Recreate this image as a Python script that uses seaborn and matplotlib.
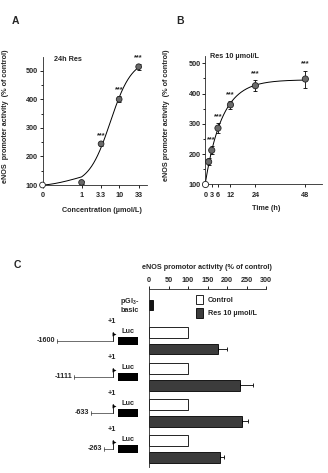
import numpy as np
import pandas as pd
import matplotlib
matplotlib.use("Agg")
import matplotlib.pyplot as plt
import seaborn as sns
from matplotlib.patches import Rectangle, Patch
from matplotlib.ticker import MultipleLocator, FixedLocator, NullLocator

# ---------------- data ----------------
# Panel A : concentration response (24 h resveratrol)
conc = [0, 1, 3.3, 10, 33]
conc_labels = ["0", "1", "3.3", "10", "33"]
conc_activity = [100, 109, 244, 400, 514]
conc_err = [0, 5, 6, 10, 10]
conc_sig = ["", "", "***", "***", "***"]

# Panel B : time course (Res 10 umol/L)
time_h = [0, 1.5, 3, 6, 12, 24, 48]
time_ticks = [0, 3, 6, 12, 24, 48]
time_activity = [100, 175, 213, 286, 363, 426, 448]
time_err = [0, 11, 13, 16, 13, 19, 28]
time_sig = ["", "", "***", "***", "***", "***", "***"]

# Panel C : deletion constructs
constructs = ["pGl3-basic", "-1600", "-1111", "-633", "-263"]
promoter_len = [0, 1600, 1111, 633, 263]
control_activity = [np.nan, 100, 100, 100, 100]
res_activity = [11, 176, 233, 238, 182]
res_err = [0, 25, 33, 15, 11]
c_ticks = [0, 50, 100, 150, 200, 250, 300]
cond_labels = ["Control", "Res 10 µmol/L"]

# ---------------- style ----------------
sns.set_theme(style="ticks")
plt.rcParams["font.family"] = ["Liberation Sans", "DejaVu Sans"]
plt.rcParams["font.weight"] = "bold"
plt.rcParams["mathtext.fontset"] = "custom"
plt.rcParams["mathtext.rm"] = "Liberation Sans:bold"
plt.rcParams["mathtext.bf"] = "Liberation Sans:bold"
plt.rcParams["mathtext.default"] = "bf"
FS = 5.2
LW = 0.6

W, H = 328, 473
fig = plt.figure(figsize=(W / 100, H / 100), dpi=100)
fig.patch.set_facecolor("white")


def ax_px(left, right, top, bottom):
    return fig.add_axes([left / W, 1 - bottom / H, (right - left) / W, (bottom - top) / H])


def style_axis(ax):
    for s in ax.spines.values():
        s.set_linewidth(LW)
    ax.tick_params(which="major", length=2.2, width=LW, labelsize=FS, pad=1.2, color="black")
    ax.tick_params(which="minor", length=1.3, width=LW, color="black")
    ax.set_facecolor("white")


def hill_fit(x, y):
    # bottom fixed at the control value, top / EC50 / slope fitted
    x = np.asarray(x, float)
    y = np.asarray(y, float)
    b = y[0]
    best = None
    for ec in np.geomspace(0.5, 50, 200):
        for n in np.linspace(0.5, 5, 120):
            f = x ** n / (x ** n + ec ** n)
            span = np.sum(f * (y - b)) / np.sum(f * f)
            sse = np.sum((b + span * f - y) ** 2)
            if best is None or sse < best[0]:
                best = (sse, ec, n, span)
    _, ec, n, span = best
    return lambda xx: b + span * xx ** n / (xx ** n + ec ** n)


def expo_fit(t, y):
    t = np.asarray(t, float)
    y = np.asarray(y, float)
    best = None
    for k in np.geomspace(0.005, 3, 600):
        f = 1 - np.exp(-k * t)
        A = np.column_stack([np.ones_like(f), f])
        coef, *_ = np.linalg.lstsq(A, y, rcond=None)
        sse = np.sum((A @ coef - y) ** 2)
        if best is None or sse < best[0]:
            best = (sse, k, coef)
    _, k, (y0, span) = best
    return lambda tt: y0 + span * (1 - np.exp(-k * tt))


def stars(ax, xs, ys, errs, labels):
    for x, y, e, lab in zip(xs, ys, errs, labels):
        if lab:
            ax.annotate(lab, (x, y + e), xytext=(0, 4.6), textcoords="offset points",
                        ha="center", va="center", fontsize=FS, fontweight="bold",
                        annotation_clip=False)


point_grey = "#6a6a6a"

# ---------------- Panel A ----------------
axA = ax_px(42.5, 147, 57, 185)
axA.set_xscale("symlog", linthresh=1, linscale=0.936)
fA = hill_fit(conc, conc_activity)
xcurve = np.concatenate([np.linspace(0, 1, 60), np.geomspace(1, max(conc), 200)])
sns.lineplot(x=xcurve, y=fA(xcurve), color="black", lw=0.7, ax=axA, clip_on=False, zorder=2)
axA.errorbar(conc, conc_activity, yerr=conc_err, fmt="none", ecolor="black",
             elinewidth=LW, capsize=1.2, capthick=LW, zorder=2)
dfA = pd.DataFrame({"x": conc, "y": conc_activity,
                    "kind": ["ctrl" if c == 0 else "res" for c in conc]})
sns.scatterplot(data=dfA, x="x", y="y", hue="kind", palette={"ctrl": "white", "res": point_grey},
                s=17, edgecolor="#222222", linewidth=0.6, legend=False, ax=axA,
                zorder=3, clip_on=False)
stars(axA, conc, conc_activity, conc_err, conc_sig)
axA.set_xlim(0, 55)
axA.set_ylim(100, 548)
axA.xaxis.set_major_locator(FixedLocator(conc))
axA.set_xticklabels(conc_labels)
axA.xaxis.set_minor_locator(NullLocator())
axA.yaxis.set_major_locator(FixedLocator([100, 200, 300, 400, 500]))
axA.yaxis.set_minor_locator(MultipleLocator(50))
style_axis(axA)
axA.tick_params(axis="x", pad=3.0)
sns.despine(ax=axA)
axA.set_xlabel("Concentration (µmol/L)", fontsize=FS, fontweight="bold")
axA.xaxis.set_label_coords(0.567, -0.168)
axA.set_ylabel("eNOS  promoter activity  (% of control)", fontsize=FS, fontweight="bold")
axA.yaxis.set_label_coords(-0.318, 0.54)
fig.text(54 / W, 1 - 59.5 / H, "24h Res", fontsize=FS, fontweight="bold", va="center")
fig.text(15 / W, 1 - 20.7 / H, "A", fontsize=7.5, fontweight="bold", ha="center", va="center")

# ---------------- Panel B ----------------
axB = ax_px(205.5, 322, 56, 184.5)
fB = expo_fit(time_h, time_activity)
tcurve = np.linspace(0, max(time_h), 300)
sns.lineplot(x=tcurve, y=fB(tcurve), color="black", lw=0.7, ax=axB, clip_on=False, zorder=2)
axB.errorbar(time_h, time_activity, yerr=time_err, fmt="none", ecolor="black",
             elinewidth=LW, capsize=1.2, capthick=LW, zorder=2)
dfB = pd.DataFrame({"x": time_h, "y": time_activity,
                    "kind": ["ctrl" if t == 0 else "res" for t in time_h]})
sns.scatterplot(data=dfB, x="x", y="y", hue="kind", palette={"ctrl": "white", "res": point_grey},
                s=20, edgecolor="#222222", linewidth=0.6, legend=False, ax=axB,
                zorder=3, clip_on=False)
stars(axB, time_h, time_activity, time_err, time_sig)
axB.set_xlim(0, 56)
axB.set_ylim(100, 524)
axB.xaxis.set_major_locator(FixedLocator(time_ticks))
axB.xaxis.set_minor_locator(NullLocator())
axB.yaxis.set_major_locator(FixedLocator([100, 200, 300, 400, 500]))
axB.yaxis.set_minor_locator(MultipleLocator(50))
style_axis(axB)
axB.tick_params(axis="x", pad=3.0)
sns.despine(ax=axB)
axB.set_xlabel("Time (h)", fontsize=FS, fontweight="bold")
axB.xaxis.set_label_coords(0.525, -0.163)
axB.set_ylabel("eNOS promoter activity  (% of control)", fontsize=FS, fontweight="bold")
axB.yaxis.set_label_coords(-0.305, 0.54)
fig.text(210 / W, 1 - 56 / H, "Res 10 µmol/L", fontsize=FS, fontweight="bold", va="center")
fig.text(180 / W, 1 - 20.7 / H, "B", fontsize=7.5, fontweight="bold", ha="center", va="center")

# ---------------- Panel C ----------------
top_c, bot_c = 289, 467
axC = ax_px(149, 266, top_c, bot_c)
rows = []
for name, c, r in zip(constructs, control_activity, res_activity):
    if not np.isnan(c):
        rows.append({"construct": name, "condition": cond_labels[0], "activity": c})
        rows.append({"construct": name, "condition": cond_labels[1], "activity": r})
dfC = pd.DataFrame(rows)
res_grey = "#3c3c3c"
sns.barplot(data=dfC, y="construct", x="activity", hue="condition", order=constructs,
            hue_order=cond_labels, palette={cond_labels[0]: "white", cond_labels[1]: res_grey},
            orient="h", width=0.944, gap=0.41, edgecolor="black", linewidth=LW,
            errorbar=None, ax=axC, legend=False)
dfBasic = pd.DataFrame({"construct": [constructs[0]], "activity": [res_activity[0]]})
sns.barplot(data=dfBasic, y="construct", x="activity", order=constructs, orient="h",
            color="#151515", width=0.278, edgecolor="black", linewidth=LW,
            errorbar=None, ax=axC)
# error bars on Res bars (one-sided)
res_bars = sorted(axC.containers[1], key=lambda b: b.get_y())
ys = [b.get_y() + b.get_height() / 2 for b in res_bars]
errs = res_err[1:]
axC.errorbar(res_activity[1:], ys, xerr=[np.zeros(len(errs)), errs], fmt="none",
             ecolor="black", elinewidth=LW, capsize=1.3, capthick=LW, zorder=3)
ylim_c = (4.5, -0.444)
axC.set_ylim(*ylim_c)
axC.set_xlim(0, 300)
axC.xaxis.set_major_locator(FixedLocator(c_ticks))
axC.xaxis.tick_top()
axC.set_yticks([])
axC.set_ylabel("")
style_axis(axC)
axC.tick_params(axis="x", top=True, bottom=False, labeltop=True, labelbottom=False, pad=1.3)
for s in ["right", "bottom"]:
    axC.spines[s].set_visible(False)
axC.xaxis.set_label_position("top")
axC.set_xlabel("eNOS promotor activity (% of control)", fontsize=FS, fontweight="bold")
axC.xaxis.set_label_coords(0.496, 1.113)
handles = [Patch(facecolor="white", edgecolor="black", linewidth=LW),
           Patch(facecolor=res_grey, edgecolor="black", linewidth=LW)]
axC.legend(handles, cond_labels, loc="upper left", bbox_to_anchor=(196 / W, 1 - 295 / H),
           bbox_transform=fig.transFigure, frameon=False, fontsize=FS, handlelength=1.0,
           handleheight=1.6, handletextpad=0.65, labelspacing=0.55, borderpad=0,
           borderaxespad=0)
fig.text(17.3 / W, 1 - 265 / H, "C", fontsize=7.5, fontweight="bold", ha="center", va="center")

# construct diagrams
axD = ax_px(0, 149, top_c, bot_c)
bp_per_px = 28.6
axD.set_xlim(-113 * bp_per_px, 36 * bp_per_px)
axD.set_ylim(*ylim_c)
axD.axis("off")
unit = 1 / 36.0  # categorical units per pixel
for g, (name, L) in enumerate(zip(constructs, promoter_len)):
    if L == 0:
        axD.text(26 * bp_per_px, g, "pGl$_3$-\nbasic", ha="right", va="center",
                 multialignment="center", fontsize=FS, fontweight="bold", linespacing=1.0)
        continue
    axD.plot([-L, 0], [g, g], color="#333333", lw=0.5)
    axD.plot([-L, -L], [g - 2.2 * unit, g + 2.2 * unit], color="#333333", lw=0.5)
    axD.plot([0, 0], [g, g - 8.5 * unit], color="black", lw=0.6)
    axD.plot([1.3 * bp_per_px], [g - 7.3 * unit], marker=">", color="black", markersize=2.8,
             markeredgewidth=0)
    axD.add_patch(Rectangle((5.3 * bp_per_px, g - 3.8 * unit), 20 * bp_per_px, 7.6 * unit,
                            facecolor="black", edgecolor="black", lw=0))
    axD.text(15.3 * bp_per_px, g - 9.5 * unit, "Luc", ha="center", va="center",
             fontsize=FS, fontweight="bold")
    axD.text(-1 * bp_per_px, g - 19.5 * unit, "+1", ha="center", va="center",
             fontsize=FS, fontweight="bold")
    axD.annotate(name, (-L, g), xytext=(-1.3, 0), textcoords="offset points",
                 ha="right", va="center", fontsize=FS, fontweight="bold")

fig.savefig("out.png", dpi=100, facecolor="white")
